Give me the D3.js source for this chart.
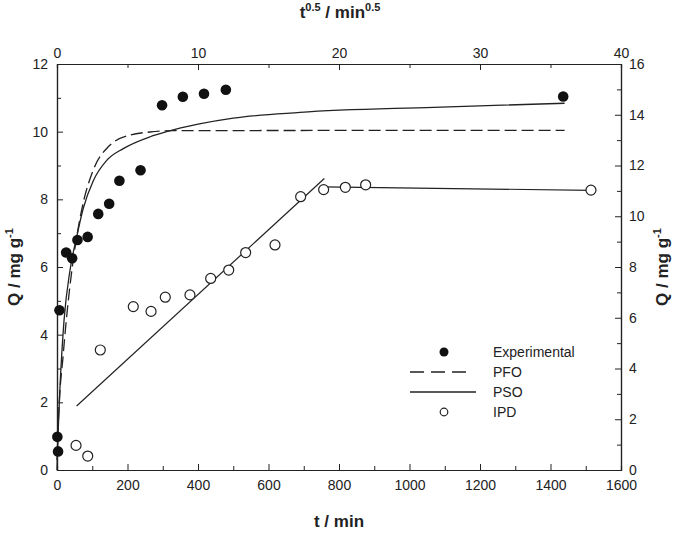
<!DOCTYPE html>
<html>
<head>
<meta charset="utf-8">
<script src="https://cdn.jsdelivr.net/npm/d3@7"></script>
<style>
  body { margin: 0; background: #fff; }
  svg text { font-family: "Liberation Sans", Arial, sans-serif; fill: #222; }
</style>
</head>
<body>
<div id="chart"></div>
<script>
// Experimental data (bottom / left axes)
const expT = [1, 3, 7, 26, 43, 58, 87, 117, 148, 177, 237, 298, 357, 417, 479, 1436];
const expQ = [0.98, 0.55, 4.72, 6.43, 6.26, 6.80, 6.89, 7.57, 7.87, 8.55, 8.86, 10.78, 11.03, 11.12, 11.24, 11.04];

// PFO fit
const pfoT = [0, 3, 18, 32, 46, 70, 103, 146, 207, 264, 330, 1440];
const pfoQ = [0, 1.18, 3.45, 5.0, 6.2, 7.69, 8.87, 9.56, 9.9, 9.99, 10.03, 10.04];

// PSO fit
const psoT = [0, 8.5, 20, 37, 56, 75, 103, 141, 188, 264, 311, 400, 500, 689, 1068, 1440];
const psoQ = [0.3, 2.46, 4.43, 5.91, 6.9, 7.75, 8.55, 9.15, 9.5, 9.85, 10.0, 10.22, 10.4, 10.57, 10.72, 10.84];

// IPD points (top / right axes)
const ipdX = [1.35, 2.18, 3.07, 5.41, 6.67, 7.68, 9.43, 10.9, 12.18, 13.38, 15.46, 17.28, 18.91, 20.45, 21.89, 37.87];
const ipdY = [0.97, 0.55, 4.73, 6.44, 6.25, 6.81, 6.9, 7.55, 7.88, 8.57, 8.87, 10.77, 11.05, 11.14, 11.24, 11.03];

// IPD linear fits
const ipdFit1X = [1.39, 18.96];
const ipdFit1Y = [2.52, 11.49];
const ipdFit2X = [18.9, 37.9];
const ipdFit2Y = [11.16, 11.02];

const legendItems = ['Experimental', 'PFO', 'PSO', 'IPD'];

const width = 685;
const height = 534;
const margin = { left: 57, right: 64, top: 64, bottom: 64 };

const svg = d3.select('#chart')
  .append('svg')
  .attr('width', width)
  .attr('height', height);

const x = d3.scaleLinear().domain([0, 1600]).range([margin.left, width - margin.right]);
const y = d3.scaleLinear().domain([0, 12]).range([height - margin.bottom, margin.top]);
const x2 = d3.scaleLinear().domain([0, 40]).range([margin.left, width - margin.right]);
const y2 = d3.scaleLinear().domain([0, 16]).range([height - margin.bottom, margin.top]);

const bottomY = height - margin.bottom;
const rightX = width - margin.right;
const fmt = d3.format('d');

// helper to style an axis group
function styleAxis(g) {
  g.selectAll('path.domain').attr('stroke', '#222').attr('stroke-width', 1.2);
  g.selectAll('.tick line').attr('stroke', '#222').attr('stroke-width', 1);
  g.selectAll('.tick text').attr('font-size', 14).style('font-family', '"Liberation Sans", Arial, sans-serif').attr('fill', '#222');
}

// minor ticks first
svg.append('g').attr('transform', `translate(0,${bottomY})`)
  .call(d3.axisBottom(x).tickValues(d3.range(100, 1600, 200)).tickSize(-4).tickFormat(''))
  .call(styleAxis);
svg.append('g').attr('transform', `translate(0,${margin.top})`)
  .call(d3.axisTop(x2).tickValues(d3.range(5, 40, 10)).tickSize(-4).tickFormat(''))
  .call(styleAxis);
svg.append('g').attr('transform', `translate(${margin.left},0)`)
  .call(d3.axisLeft(y).tickValues(d3.range(1, 12, 2)).tickSize(-4).tickFormat(''))
  .call(styleAxis);
svg.append('g').attr('transform', `translate(${rightX},0)`)
  .call(d3.axisRight(y2).tickValues(d3.range(1, 16, 2)).tickSize(-4).tickFormat(''))
  .call(styleAxis);

// major axes
svg.append('g').attr('transform', `translate(0,${bottomY})`)
  .call(d3.axisBottom(x).tickValues(d3.range(0, 1601, 200)).tickFormat(fmt).tickSizeInner(-6).tickSizeOuter(0).tickPadding(10))
  .call(styleAxis);
svg.append('g').attr('transform', `translate(0,${margin.top})`)
  .call(d3.axisTop(x2).tickValues(d3.range(0, 41, 10)).tickFormat(fmt).tickSizeInner(-6).tickSizeOuter(0).tickPadding(6))
  .call(styleAxis);
svg.append('g').attr('transform', `translate(${margin.left},0)`)
  .call(d3.axisLeft(y).tickValues(d3.range(0, 13, 2)).tickFormat(fmt).tickSizeInner(-6).tickSizeOuter(0).tickPadding(9))
  .call(styleAxis);
svg.append('g').attr('transform', `translate(${rightX},0)`)
  .call(d3.axisRight(y2).tickValues(d3.range(0, 17, 2)).tickFormat(fmt).tickSizeInner(-6).tickSizeOuter(0).tickPadding(8))
  .call(styleAxis);

// axis titles
svg.append('text')
  .attr('x', (margin.left + rightX) / 2).attr('y', 527)
  .attr('text-anchor', 'middle').attr('font-size', 17).attr('font-weight', 'bold')
  .text('t / min');

const topTitle = svg.append('text')
  .attr('x', 340).attr('y', 18)
  .attr('text-anchor', 'middle').attr('font-size', 17).attr('font-weight', 'bold');
topTitle.append('tspan').text('t');
topTitle.append('tspan').attr('dy', -7).attr('font-size', 11).text('0.5');
topTitle.append('tspan').attr('dy', 7).text(' / min');
topTitle.append('tspan').attr('dy', -7).attr('font-size', 11).text('0.5');

function qTitle(cx) {
  const t = svg.append('text')
    .attr('transform', `translate(${cx},${(margin.top + bottomY) / 2}) rotate(-90)`)
    .attr('text-anchor', 'middle').attr('font-size', 17).attr('font-weight', 'bold');
  t.append('tspan').text('Q / mg g');
  t.append('tspan').attr('dy', -7).attr('font-size', 11).text('-1');
}
qTitle(20);
qTitle(668);

// PFO dashed
const line = d3.line().curve(d3.curveMonotoneX);
svg.append('path')
  .attr('d', line(pfoT.map((t, i) => [x(t), y(pfoQ[i])])))
  .attr('fill', 'none').attr('stroke', '#222').attr('stroke-width', 1.3)
  .attr('stroke-dasharray', '12,5');

// PSO solid
svg.append('path')
  .attr('d', line(psoT.map((t, i) => [x(t), y(psoQ[i])])))
  .attr('fill', 'none').attr('stroke', '#222').attr('stroke-width', 1.3);

// IPD fit lines
const straight = d3.line();
svg.append('path')
  .attr('d', straight(ipdFit1X.map((s, i) => [x2(s), y2(ipdFit1Y[i])])))
  .attr('fill', 'none').attr('stroke', '#222').attr('stroke-width', 1.2);
svg.append('path')
  .attr('d', straight(ipdFit2X.map((s, i) => [x2(s), y2(ipdFit2Y[i])])))
  .attr('fill', 'none').attr('stroke', '#222').attr('stroke-width', 1.2);

// experimental points
svg.append('g').selectAll('circle')
  .data(expT)
  .enter()
  .append('circle')
  .attr('cx', (t) => x(t))
  .attr('cy', (t, i) => y(expQ[i]))
  .attr('r', 5.3)
  .attr('fill', '#111');

// IPD points
svg.append('g').selectAll('circle')
  .data(ipdX)
  .enter()
  .append('circle')
  .attr('cx', (s) => x2(s))
  .attr('cy', (s, i) => y2(ipdY[i]))
  .attr('r', 5)
  .attr('fill', '#fff')
  .attr('stroke', '#222')
  .attr('stroke-width', 1.2);

// legend
const legend = svg.append('g');
const rowY = [352, 372, 392, 412];
legendItems.forEach((label, i) => {
  legend.append('text')
    .attr('x', 493).attr('y', rowY[i]).attr('dy', '0.35em')
    .attr('font-size', 14).text(label);
});
legend.append('circle').attr('cx', 444).attr('cy', rowY[0]).attr('r', 4.5).attr('fill', '#111');
legend.append('line').attr('x1', 410).attr('x2', 470).attr('y1', rowY[1]).attr('y2', rowY[1])
  .attr('stroke', '#222').attr('stroke-width', 1.3).attr('stroke-dasharray', '14,7');
legend.append('line').attr('x1', 410).attr('x2', 476).attr('y1', rowY[2]).attr('y2', rowY[2])
  .attr('stroke', '#222').attr('stroke-width', 1.3);
legend.append('circle').attr('cx', 444).attr('cy', rowY[3]).attr('r', 3.8)
  .attr('fill', '#fff').attr('stroke', '#222').attr('stroke-width', 1.2);
</script>
</body>
</html>
